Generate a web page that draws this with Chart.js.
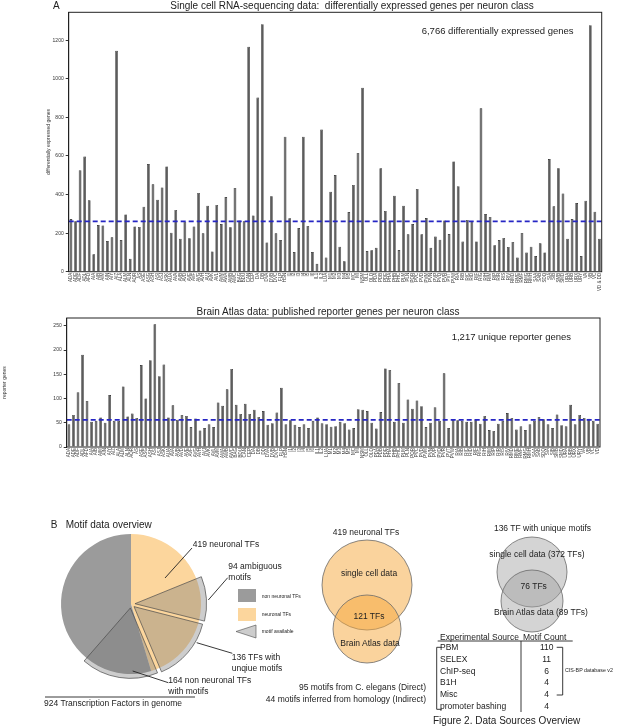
<!DOCTYPE html>
<html>
<head>
<meta charset="utf-8">
<script src="https://cdn.jsdelivr.net/npm/chart.js@4.4.0/dist/chart.umd.min.js"></script>
<style>
html, body { margin: 0; padding: 0; background: #fff; }
#fig { position: relative; width: 617px; height: 727px; overflow: hidden; font-family: "Liberation Sans", Arial, sans-serif; color: #222; }
#fig canvas { position: absolute; }
.t { position: absolute; white-space: pre; line-height: 1; }
#ann { position: absolute; left: 0; top: 0; }
</style>
</head>
<body>
<div id="fig">
  <canvas id="c_top" width="617" height="292" style="left:0;top:0"></canvas>
  <canvas id="c_bottom" width="617" height="170" style="left:0;top:300px"></canvas>
  <canvas id="c_pie" width="200" height="200" style="left:31px;top:504px"></canvas>
  <canvas id="c_motif" width="200" height="200" style="left:31px;top:504px"></canvas>
  <svg id="ann" width="617" height="727"></svg>
</div>
<script>
// --- donnees ---
const topLabels = ['ADA','ADE','ADF','ADL','AFD','AIA','AIB','AIM','AIN','AIY','AIZ','ALA','ALM','ALN','AQR','AS','ASE','ASG','ASH','ASI',
  'ASJ','ASK','AUA','AVA','AVB','AVD','AVE','AVF','AVG','AVH','AVJ','AVK','AVL','AVM','AWA','AWB','AWC','BAG','BDU','CAN',
  'CEP','DA','DB','DVA','DVB','DVC','FLP','HSN','I1','I2','I3','I4','I5','I6','IL1','IL2','LUA','M1','M2','M3',
  'M4','M5','MC','MI','NSM','OLL','OLQ','PDA','PDB','PDE','PHA','PHB','PHC','PLM','PLN','PQR','PVC','PVD','PVM','PVN',
  'PVP','PVQ','PVR','PVT','PVW','RIA','RIB','RIC','RID','RIF','RIG','RIH','RIM','RIP','RIR','RIS','RIV','RMD','RME','RMF',
  'RMG','RMH','SAA','SAB','SDQ','SIA','SIB','SMB','SMD','URA','URB','URX','URY','VA','VB','VC','VD & DD'];
const topGenes = [273,261,526,597,370,90,242,240,159,178, 1145,164,297,67,235,232,337,558,453,373,
  437,546,202,320,171,259,173,235,408,199, 342,105,346,247,387,230,434,265,261,1167,
  292,903,1283,152,391,199,164,700,277,102, 226,700,237,102,41,737,73,415,501,130,
  54,309,450,616,954,107,111,124,536,315, 261,394,112,342,194,247,429,194,278,124,
  182,166,266,195,572,443,156,268,261,157, 847,299,284,137,164,175,128,154,73,201,
  99,130,81,147,100,584,339,536,405,171, 273,356,81,368,1278,311,171];
const topReference = 261;

const bottomLabels = ['ADA','ADE','ADF','ADL','AFD','AIA','AIB','AIM','AIN','AIY','AIZ','ALA','ALM','ALN','AQR','AS','ASE','ASG','ASH','ASI',
  'ASJ','ASK','AUA','AVA','AVB','AVD','AVE','AVF','AVG','AVH','AVJ','AVK','AVL','AVM','AWA','AWB','AWC','BAG','BDU','CAN',
  'CEP','DA','DB','DD','DVA','DVB','DVC','FLP','HSN','I1','I2','I3','I4','I5','I6','IL1','IL2','LUA','M1','M2',
  'M3','M4','M5','MC','MI','NSM','OLL','OLQ','PDA','PDB','PDE','PHA','PHB','PHC','PLM','PLN','PQR','PVC','PVD','PVM',
  'PVN','PVP','PVQ','PVR','PVT','PVW','RIA','RIB','RIC','RID','RIF','RIG','RIH','RIM','RIP','RIR','RIS','RIV','RMD','RME',
  'RMF','RMG','RMH','SAA','SAB','SDQ','SIA','SIB','SMB','SMD','URA','URB','URX','URY','VA','VB','VC','VD'];
const bottomGenes = [47,66,113,190,95,52,54,61,50,107, 54,54,125,63,69,60,169,100,179,253,
  146,170,61,86,56,66,64,41,59,34, 39,47,41,92,85,119,161,87,68,89,
  68,77,62,74,46,49,71,122,47,55, 46,41,47,39,54,61,49,47,42,43,
  52,49,36,39,78,77,74,50,38,72, 162,159,52,132,50,98,79,96,84,41,
  50,82,54,152,39,56,55,54,52,52, 57,48,64,35,33,48,54,70,60,36,
  43,35,47,54,62,57,47,39,67,45, 43,87,47,66,60,58,54,48];
const bottomReference = 56;

const pieGroups = ['neuronal TFs', 'non neuronal TFs'];
const pieCounts = [419, 505];
const motifGroups = ['neuronal, no motif', 'ambiguous motifs', 'TFs with unique motifs', 'non neuronal TFs with motifs', 'non neuronal, no motif'];
const motifCounts = [189, 94, 136, 164, 341];

const neuronalSets = ['single cell data', 'Brain Atlas data'];
const neuronalShared = 121;
const motifSets = ['single cell data', 'Brain Atlas data'];
const motifSetCounts = [372, 89];
const motifShared = 76;

const sources = ['PBM', 'SELEX', 'ChIP-seq', 'B1H', 'Misc', 'promoter bashing'];
const sourceCounts = [110, 11, 6, 4, 4, 4];

// --- plugin : ligne pointillee + cadre ---
const refLine = {
  id: 'refLine',
  afterDraw(chart, args, opts) {
    const { ctx, chartArea: a, scales } = chart;
    const y = scales.y.getPixelForValue(opts.value);
    ctx.save();
    ctx.strokeStyle = '#2626c4';
    ctx.lineWidth = 1.6;
    ctx.setLineDash([5, 3]);
    ctx.beginPath(); ctx.moveTo(a.left, y); ctx.lineTo(a.right, y); ctx.stroke();
    ctx.setLineDash([]);
    ctx.strokeStyle = '#222'; ctx.lineWidth = 1;
    ctx.strokeRect(a.left, a.top, a.right - a.left, a.bottom - a.top);
    ctx.restore();
  }
};

function barChart(id, labels, values, ref, o) {
  return new Chart(document.getElementById(id), {
    type: 'bar',
    data: {
      labels: labels,
      datasets: [{ data: values, backgroundColor: '#5c5c5c', borderColor: '#1e1e1e', borderWidth: 0.6,
        barPercentage: 0.6, categoryPercentage: 1 }]
    },
    options: {
      responsive: false, animation: false,
      layout: { padding: o.pad },
      plugins: { legend: { display: false }, tooltip: { enabled: false }, refLine: { value: ref } },
      scales: {
        x: {
          grid: { display: false, drawTicks: false }, border: { display: false },
          ticks: { autoSkip: false, minRotation: 90, maxRotation: 90, padding: 1, color: '#444', font: { size: 4.5 } },
          afterFit: function(s) { s.height = o.xh; }
        },
        y: {
          min: 0, max: o.max,
          grid: { drawOnChartArea: false, tickLength: 3, color: '#333' },
          border: { color: '#222' },
          ticks: { stepSize: o.step, includeBounds: false, padding: 2, color: '#333', font: { size: 5 },
            callback: function(v) { return String(v); } },
          title: { display: true, text: o.title, padding: o.tpad, color: '#333', font: { size: 5 } },
          afterFit: function(s) { s.width = o.yw; }
        }
      }
    },
    plugins: [refLine]
  });
}

barChart('c_top', topLabels, topGenes, topReference,
  { pad: { left: 46, right: 15.3, top: 12.3, bottom: 0 }, yw: 22.7, xh: 20.3, max: 1345, step: 200,
    tpad: 0, title: 'differentially expressed genes' });
barChart('c_bottom', bottomLabels, bottomGenes, bottomReference,
  { pad: { left: 2, right: 17, top: 18, bottom: 0 }, yw: 64.7, xh: 23, max: 266, step: 50,
    tpad: 0, title: 'reporter genes' });

// --- camembert ---
const noTip = { legend: { display: false }, tooltip: { enabled: false } };
new Chart(document.getElementById('c_pie'), {
  type: 'pie',
  data: { labels: pieGroups, datasets: [{ data: pieCounts, backgroundColor: ['#fcd69d', '#9b9b9b'], borderWidth: 0 }] },
  options: { responsive: false, animation: false, radius: 70, plugins: noTip }
});
const clear = 'rgba(0,0,0,0)', wedge = 'rgba(117,117,117,0.36)';
new Chart(document.getElementById('c_motif'), {
  type: 'pie',
  data: { labels: motifGroups, datasets: [{ data: motifCounts,
    backgroundColor: [clear, wedge, wedge, wedge, clear],
    borderColor: [clear, '#4a4a4a', '#4a4a4a', '#4a4a4a', clear],
    borderWidth: [0, 0.7, 0.7, 0.7, 0],
    offset: [0, 16, 16, 16, 0] }] },
  options: { responsive: false, animation: false, radius: 70, rotation: -6, plugins: noTip }
});

// --- diagrammes de Venn (un cercle = un point de nuage) ---
const fig = document.getElementById('fig');
function circle(label, value, cx, cy, r, fill) {
  const c = document.createElement('canvas');
  const s = Math.ceil(2 * r + 4);
  c.width = s; c.height = s;
  c.style.left = (cx - s / 2) + 'px'; c.style.top = (cy - s / 2) + 'px';
  fig.insertBefore(c, document.getElementById('ann'));
  new Chart(c, {
    type: 'scatter',
    data: { datasets: [{ label: label, data: [{ x: value, y: value }], pointRadius: r,
      pointBackgroundColor: fill, pointBorderColor: '#6b6b6b', pointBorderWidth: 0.8, clip: false }] },
    options: {
      responsive: false, animation: false, plugins: noTip,
      scales: { x: { display: false, min: value - 1, max: value + 1 }, y: { display: false, min: value - 1, max: value + 1 } }
    }
  });
}
const orange = 'rgba(245,168,60,0.5)', grey = 'rgba(160,160,160,0.45)';
circle(neuronalSets[0], pieCounts[0], 367, 585, 45, orange);
circle(neuronalSets[1], neuronalShared, 367, 628.5, 34, orange);
circle(motifSets[0], motifSetCounts[0], 532, 571.5, 35, grey);
circle(motifSets[1], motifSetCounts[1], 532, 600.5, 31, grey);

// --- textes ---
function txt(s, x, y, size, align) {
  const d = document.createElement('div');
  d.className = 't';
  d.textContent = s;
  d.style.fontSize = size + 'px';
  d.style.left = x + 'px';
  d.style.top = y + 'px';
  const tx = align === 'c' ? '-50%' : align === 'r' ? '-100%' : '0';
  d.style.transform = 'translate(' + tx + ',-50%)';
  fig.appendChild(d);
}
txt('A', 53, 5.5, 10);
txt('Single cell RNA-sequencing data:  differentially expressed genes per neuron class', 352, 5.5, 10, 'c');
txt('6,766 differentially expressed genes', 421.7, 31, 9.5);
txt('Brain Atlas data: published reporter genes per neuron class', 328, 312, 10, 'c');
txt('1,217 unique reporter genes', 451.7, 336.5, 9.5);

txt('B', 50.7, 525, 10);
txt('Motif data overview', 65.7, 525, 10);
txt('419 neuronal TFs', 192.7, 544, 8.5);
txt('94 ambiguous', 228.3, 566, 8.5);
txt('motifs', 228.3, 576.5, 8.5);
txt('non neuronal TFs', 261.7, 595.7, 5);
txt('neuronal TFs', 261.7, 614, 5);
txt('motif available', 261.7, 631, 5);
txt('136 TFs with', 231.7, 657, 8.5);
txt('unqiue motifs', 231.7, 667.7, 8.5);
txt('164 non neuronal TFs', 168.3, 680, 8.5);
txt('with motifs', 168.3, 690.5, 8.5);
txt(pieCounts[0] + pieCounts[1] + ' Transcription Factors in genome', 113, 703, 8.5, 'c');

txt(pieCounts[0] + ' neuronal TFs', 366, 532, 8.5, 'c');
txt(neuronalSets[0], 369, 573, 8.5, 'c');
txt(neuronalShared + ' TFs', 369, 616, 8.5, 'c');
txt(neuronalSets[1], 370, 643, 8.5, 'c');
txt('95 motifs from C. elegans (Direct)', 426, 686.7, 8.5, 'r');
txt('44 motifs inferred from homology (Indirect)', 426, 699, 8.5, 'r');

txt('136 TF with unique motifs', 542.5, 527.7, 8.5, 'c');
txt(motifSets[0] + ' (' + motifSetCounts[0] + ' TFs)', 537, 554, 8.5, 'c');
txt(motifShared + ' TFs', 533.7, 586, 8.5, 'c');
txt(motifSets[1] + ' (' + motifSetCounts[1] + ' TFs)', 541, 611.7, 8.5, 'c');

txt('Experimental Source', 440, 637, 8.5);
txt('Motif Count', 523, 637, 8.5);
sources.forEach(function(s, i) {
  const y = 647.3 + i * 11.7;
  txt(s, 440, y, 8.5);
  txt(String(sourceCounts[i]), 546.7, y, 8.5, 'c');
});
txt('CIS-BP database v2', 565, 671, 5.3);
txt('Figure 2. Data Sources Overview', 433, 721, 10);

// --- traits d'annotation ---
const ns = 'http://www.w3.org/2000/svg';
const svg = document.getElementById('ann');
function el(tag, attrs) {
  const e = document.createElementNS(ns, tag);
  for (const k in attrs) e.setAttribute(k, attrs[k]);
  svg.appendChild(e);
}
function line(x1, y1, x2, y2, w) {
  el('line', { x1: x1, y1: y1, x2: x2, y2: y2, stroke: '#222', 'stroke-width': w || 0.9 });
}
line(165, 578, 192, 548);
line(208.3, 600, 227.7, 577.7);
line(196.7, 642.7, 232.3, 653.3);
line(132.7, 671, 168.3, 682.7);
line(45, 697, 195, 697);
el('rect', { x: 238, y: 589, width: 18, height: 13, fill: '#9b9b9b' });
el('rect', { x: 238, y: 608, width: 18, height: 13, fill: '#fcd69d' });
el('polygon', { points: '236,631.5 256,625 256,638', fill: wedge, stroke: '#4a4a4a', 'stroke-width': 0.6 });
// tableau
line(437.7, 641, 572.7, 641);
line(521, 641, 521, 712);
el('polyline', { points: '441.7,647.3 436.7,647.3 436.7,709.3 441.7,709.3', fill: 'none', stroke: '#222', 'stroke-width': 0.9 });
el('polyline', { points: '556.7,647.3 562.7,647.3 562.7,695 556.7,695', fill: 'none', stroke: '#222', 'stroke-width': 0.9 });
</script>
</body>
</html>
